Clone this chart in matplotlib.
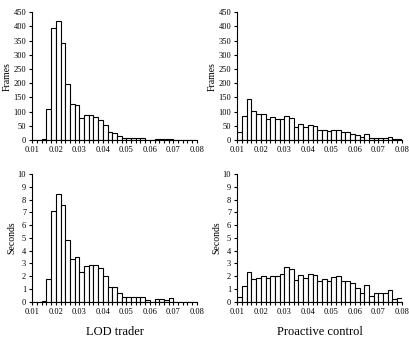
import numpy as np
import matplotlib
matplotlib.use("Agg")
import matplotlib.pyplot as plt
from matplotlib.ticker import MultipleLocator

plt.rcParams['font.family'] = ['Liberation Serif', 'DejaVu Serif']

# histogram bins: 0.010 .. 0.080, width 0.002
bin_edges = np.round(np.arange(0.010, 0.0801, 0.002), 3)

lod_frames = [0, 0, 3, 111, 393, 420, 343, 199, 128, 123, 77, 89, 87, 82, 70,
              52, 27, 26, 14, 7, 7, 7, 7, 7, 2, 0, 4, 3, 3, 5, 0, 0, 0, 0, 0]
pro_frames = [29, 86, 146, 102, 92, 92, 76, 80, 73, 73, 85, 77, 47, 55, 45,
              53, 48, 35, 36, 31, 36, 37, 29, 27, 22, 18, 12, 21, 6, 9, 9, 8, 12, 3, 5]
lod_seconds = [0, 0, 0.05, 1.8, 7.1, 8.45, 7.55, 4.8, 3.35, 3.5, 2.3, 2.8, 2.9, 2.9, 2.65,
               2.05, 1.15, 1.15, 0.65, 0.35, 0.35, 0.4, 0.4, 0.4, 0.15, 0, 0.25, 0.2, 0.1, 0.3,
               0, 0, 0, 0, 0]
pro_seconds = [0.35, 1.2, 2.35, 1.8, 1.85, 2.05, 1.85, 2.05, 2.0, 2.15, 2.7, 2.6, 1.7, 2.1, 1.85,
               2.2, 2.1, 1.65, 1.75, 1.6, 1.9, 2.0, 1.65, 1.6, 1.45, 1.05, 0.65, 1.3, 0.45, 0.65,
               0.65, 0.65, 0.9, 0.25, 0.3]

x_ticks = [0.01, 0.02, 0.03, 0.04, 0.05, 0.06, 0.07, 0.08]
x_tick_labels = ["0.01", "0.02", "0.03", "0.04", "0.05", "0.06", "0.07", "0.08"]
col_titles = ["LOD trader", "Proactive control"]

fig = plt.figure(figsize=(4.10, 3.46), dpi=100)

panels = [
    ([0.079, 0.595, 0.401, 0.370], lod_frames, "Frames", 450, 50),
    ([0.579, 0.595, 0.401, 0.370], pro_frames, "Frames", 450, 50),
    ([0.079, 0.128, 0.401, 0.369], lod_seconds, "Seconds", 10, 1),
    ([0.579, 0.128, 0.401, 0.369], pro_seconds, "Seconds", 10, 1),
]

for i, (rect, values, ylabel, ymax, ystep) in enumerate(panels):
    ax = fig.add_axes(rect)
    ax.bar(bin_edges[:-1], values, width=0.002, align="edge",
           color="white", edgecolor="black", linewidth=0.8)
    ax.set_xlim(0.01, 0.08)
    ax.set_ylim(0, ymax)
    ax.spines["top"].set_visible(False)
    ax.spines["right"].set_visible(False)
    ax.spines["left"].set_linewidth(0.8)
    ax.spines["bottom"].set_linewidth(0.8)
    ax.set_xticks(x_ticks)
    ax.set_xticklabels(x_tick_labels)
    ax.xaxis.set_minor_locator(MultipleLocator(0.002))
    ax.yaxis.set_major_locator(MultipleLocator(ystep))
    ax.tick_params(axis="both", which="major", labelsize=6, length=2.5, width=0.8, pad=2)
    ax.tick_params(axis="x", which="minor", length=2.5, width=0.8)
    ax.set_ylabel(ylabel, fontsize=7, labelpad=1)
    if i >= 2:
        ax.set_xlabel(col_titles[i - 2], fontsize=9, labelpad=7)

fig.savefig("out.png", dpi=100)
